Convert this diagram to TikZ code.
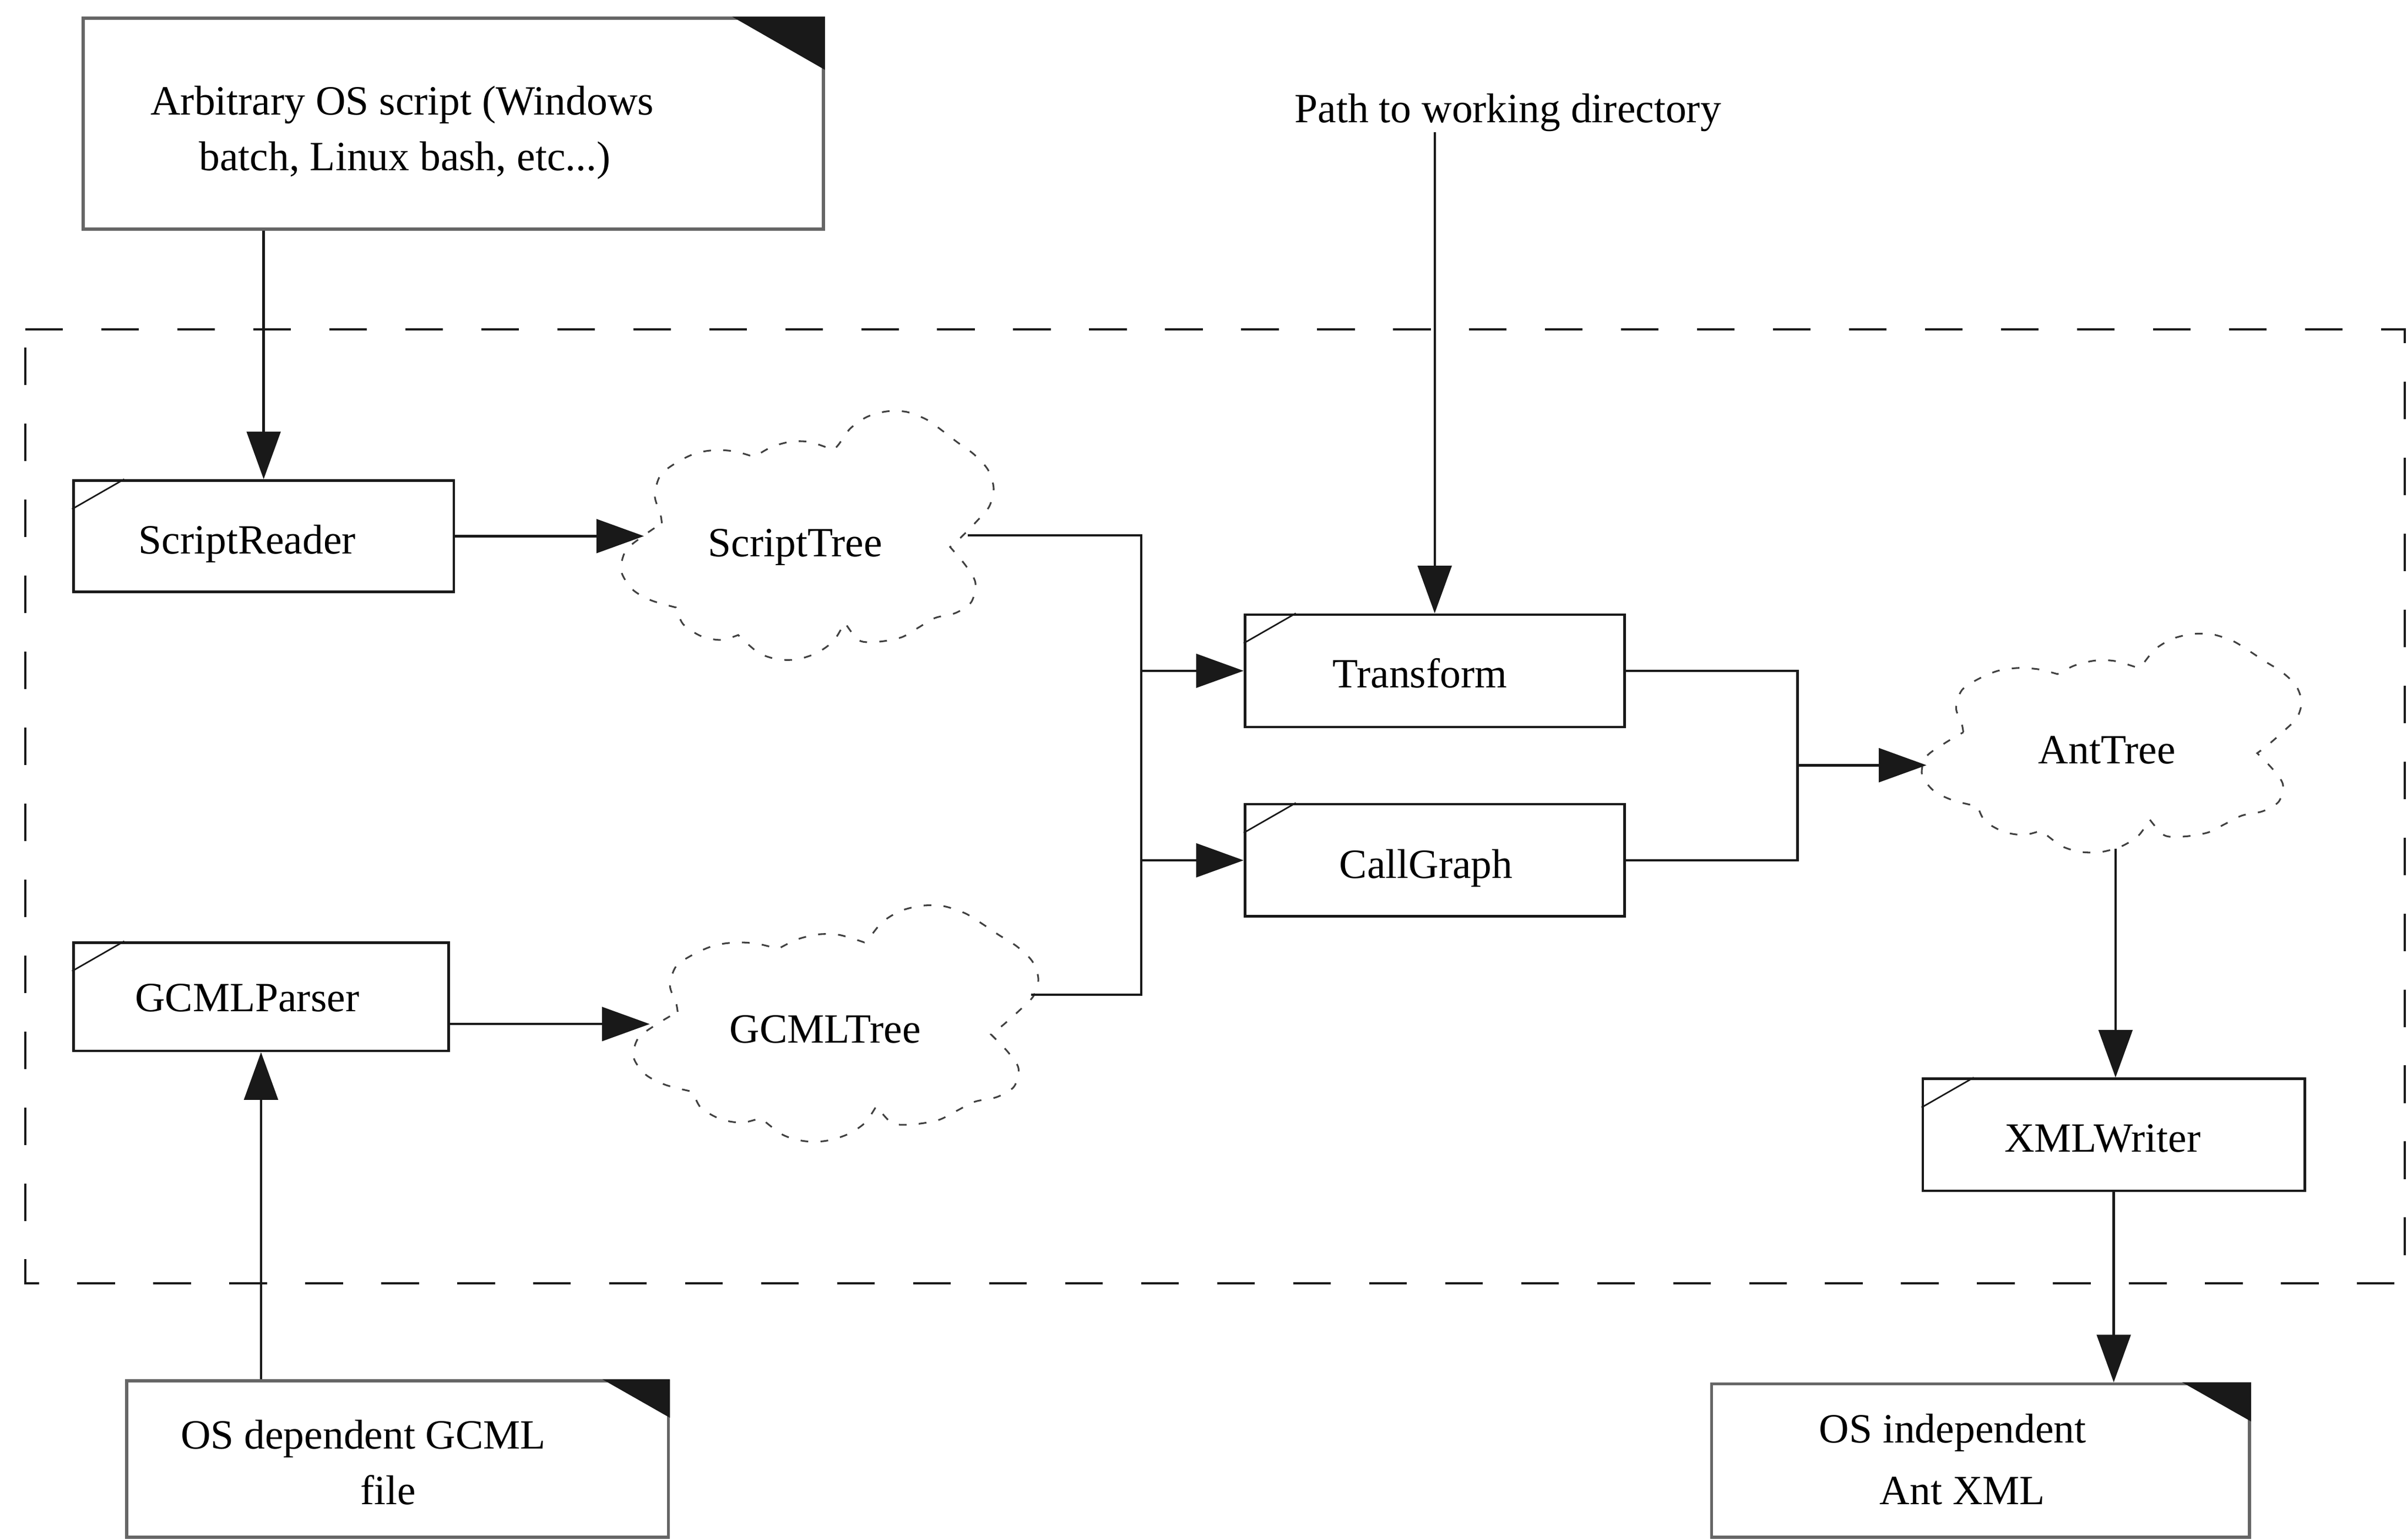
\documentclass[tikz,border=0pt]{standalone}
\usepackage{fontspec}
\setmainfont{Liberation Serif}
\usetikzlibrary{arrows.meta}
\tikzset{
  lbl/.style={inner sep=0pt, anchor=base, font=\fontsize{27.1pt}{32pt}\selectfont},
  proc/.style={draw=black!90, line width=1.7pt, rectangle, inner sep=0pt},
  docbox/.style={draw=black!60, line width=2pt, rectangle, inner sep=0pt},
  cornerfill/.style={fill=black!90},
  diagline/.style={draw=black!90, line width=1pt},
  conn/.style={draw=black!90, line width=1.6pt},
  arr/.style={conn, -{Triangle[length=31pt,width=22pt]}},
  frameline/.style={draw=black!90, line width=1.7pt, dash pattern=on 24.5pt off 25pt},
  cloudline/.style={draw=black!75, line width=1.1pt, dash pattern=on 5pt off 8pt}
}
\newcommand{\drawcloudshape}{%
  \draw[cloudline]
    plot[smooth] coordinates {(.109,.451)(.105,.413)(.09,.34)(.105,.258)(.148,.207)(.2,.169)(.254,.156)(.307,.162)(.357,.184)}
    -- plot[smooth] coordinates {(.357,.184)(.403,.144)(.456,.122)(.508,.124)(.57,.156)}
    -- plot[smooth] coordinates {(.57,.156)(.584,.133)(.615,.069)(.66,.022)(.713,0)(.766,.002)(.82,.033)(.864,.08)(.902,.124)(.947,.173)(.985,.236)(1,.311)(.988,.384)(.954,.444)(.913,.507)(.883,.547)}
    -- plot[smooth] coordinates {(.883,.547)(.925,.622)(.951,.691)(.94,.769)(.898,.813)(.843,.833)(.797,.873)(.753,.911)(.692,.929)(.639,.924)(.6,.851)}
    -- plot[smooth] coordinates {(.6,.851)(.571,.924)(.527,.973)(.473,1)(.42,1)(.368,.973)(.314,.902)}
    -- plot[smooth] coordinates {(.314,.902)(.268,.922)(.215,.907)(.166,.858)(.147,.791)}
    -- plot[smooth] coordinates {(.147,.791)(.08,.762)(.03,.718)(0,.644)(.012,.562)(.061,.5)(.109,.451)}
    -- cycle;%
}
\begin{document}
\begin{tikzpicture}[x=1pt,y=-1pt]
\useasboundingbox (0,0) rectangle (1568,1003.2);

% dashed frame
\draw[frameline] (16.5,214.6) -- (1566.5,214.6) -- (1566.5,836) -- (16.5,836) -- cycle;

% document boxes
\node[docbox, minimum width=482.2pt, minimum height=137.4pt] (src) at (295.3,80.6) {};
\fill[cornerfill] (src.north east) -- ++(-60.4,0) -- ([yshift=-34.6pt]src.north east) -- cycle;
\node[lbl] (srcA) at (262,74.8) {Arbitrary OS script (Windows};
\node[lbl] (srcB) at (263.7,111.2) {batch, Linux bash, etc...)};

\node[docbox, minimum width=352.8pt, minimum height=101.8pt] (osd) at (259,950.5) {};
\fill[cornerfill] (osd.north east) -- ++(-43.9,0) -- ([yshift=-25pt]osd.north east) -- cycle;
\node[lbl] (osdA) at (236.7,943.7) {OS dependent GCML};
\node[lbl] (osdB) at (253,980) {file};

\node[docbox, minimum width=350.4pt, minimum height=100pt] (osi) at (1290.2,951.5) {};
\fill[cornerfill] (osi.north east) -- ++(-44.9,0) -- ([yshift=-25.5pt]osi.north east) -- cycle;
\node[lbl] (osiA) at (1272,940) {OS independent};
\node[lbl] (osiB) at (1278.4,980) {Ant XML};

% free text
\node[lbl] (path) at (982.3,80) {Path to working directory};

% process boxes
\node[proc, minimum width=247.9pt, minimum height=72.5pt] (sr) at (171.75,349.25) {};
\node[proc, minimum width=244.5pt, minimum height=70.6pt] (gp) at (170.05,649.3) {};
\node[proc, minimum width=247.2pt, minimum height=73.2pt] (tr) at (934.6,437) {};
\node[proc, minimum width=247.2pt, minimum height=73.1pt] (cg) at (934.6,560.45) {};
\node[proc, minimum width=248.7pt, minimum height=72.9pt] (xw) at (1376.95,739.25) {};
\foreach \n in {sr,gp,tr,cg,xw}
  \draw[diagline] (\n.north west) ++(0,19.5) -- ++(34,-19.5);

\node[lbl] (srT) at (161,360.8) {ScriptReader};
\node[lbl] (gpT) at (161,659) {GCMLParser};
\node[lbl] (trT) at (925,448) {Transform};
\node[lbl] (cgT) at (929,572) {CallGraph};
\node[lbl] (xwT) at (1369.7,750.4) {XMLWriter};

% clouds
\begin{scope}[shift={(404.7,268)}, xscale=242.6, yscale=161.5]
  \drawcloudshape
  \coordinate (STin) at (.061,.5);
  \coordinate (STout) at (.93,.5);
\end{scope}
\node[lbl] (stT) at (518,362.4) {ScriptTree};

\begin{scope}[shift={(412.7,590)}, xscale=263.7, yscale=153.3]
  \drawcloudshape
  \coordinate (GTin) at (.04,.503);
  \coordinate (GTout) at (.982,.379);
\end{scope}
\node[lbl] (gtT) at (537.5,679.4) {GCMLTree};

\begin{scope}[shift={(1252,413)}, xscale=247.3, yscale=142]
  \drawcloudshape
  \coordinate (ATin) at (.012,.602);
  \coordinate (ATout) at (.51,.985);
\end{scope}
\node[lbl] (atT) at (1372.5,497.6) {AntTree};

% junction coordinates
\coordinate (j) at (743.5,500);
\coordinate (k) at (1171,500);

% connectors
\draw[arr] (src.south -| sr.north) -- (sr.north);
\draw[arr] (osd.north -| gp.south) -- (gp.south);
\draw[arr] (sr.east) -- (STin |- sr.east);
\draw[arr] (gp.east |- GTin) -- (GTin);
\draw[conn] (STout) -| (j |- GTout) -- (GTout);
\draw[arr] (j |- tr.west) -- (tr.west);
\draw[arr] (j |- cg.west) -- (cg.west);
\draw[arr] (path.south -| tr.north) -- (tr.north);
\draw[conn] (tr.east) -| (k |- cg.east) -- (cg.east);
\draw[arr] (k |- ATin) -- (ATin);
\draw[arr] (ATout) -- (ATout |- xw.north);
\draw[arr] (xw.south) -- (xw.south |- osi.north);
\end{tikzpicture}
\end{document}
